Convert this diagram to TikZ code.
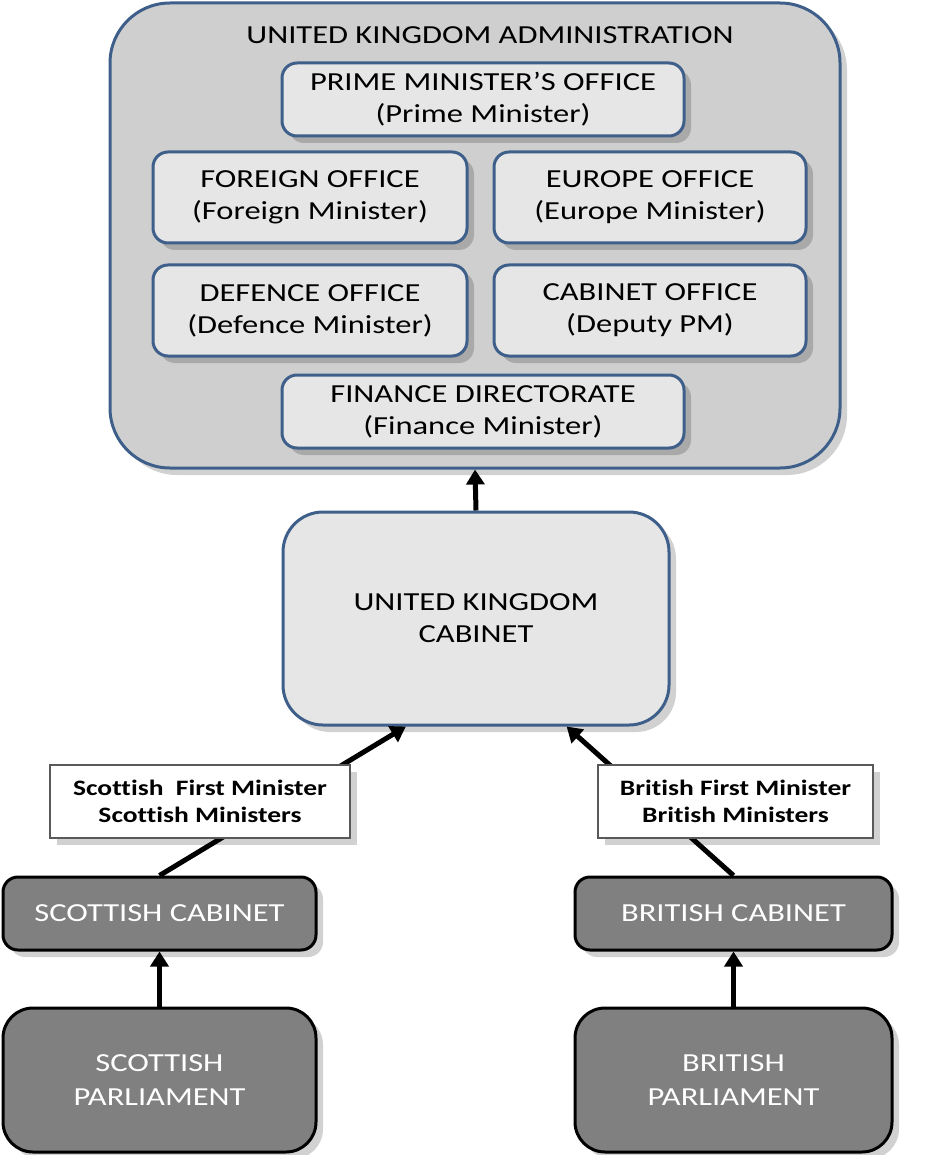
\documentclass[tikz,border=0pt]{standalone}
\usepackage{fontspec}
\setmainfont{Carlito}[FakeStretch=1.25, Ligatures=NoCommon]
\usetikzlibrary{arrows.meta,shadows}

\definecolor{frameblue}{HTML}{3E5F8A}
\definecolor{outergray}{HTML}{CFCFCF}
\definecolor{innergray}{HTML}{E6E6E6}
\definecolor{darkbox}{HTML}{808080}

\tikzset{
  softshadow/.style={drop shadow={shadow xshift=7pt, shadow yshift=-7pt, fill=black, opacity=0.18}},
  adminbox/.style={draw=frameblue, line width=3pt, fill=outergray, rounded corners=60pt,
    minimum width=730pt, minimum height=465pt, inner sep=0pt, softshadow},
  officebox/.style={draw=frameblue, line width=3pt, fill=innergray, rounded corners=15pt,
    inner sep=0pt, align=center, font=\fontsize{26}{32}\selectfont, softshadow},
  cabbox/.style={draw=frameblue, line width=3pt, fill=innergray, rounded corners=40pt,
    inner sep=0pt, align=center, font=\fontsize{26}{32}\selectfont, softshadow},
  regionbox/.style={draw=black, line width=3pt, fill=darkbox, text=white, rounded corners=15pt,
    inner sep=0pt, align=center, font=\fontsize{26}{34}\selectfont, softshadow},
  ministerbox/.style={draw=black!65, line width=2pt, fill=white, inner sep=0pt, align=center,
    font=\bfseries\fontsize{22}{27}\selectfont, softshadow},
  linkarrow/.style={line width=5pt, -{Triangle[length=15pt,width=18pt]}}
}

\begin{document}
\begin{tikzpicture}[x=1pt, y=-1pt]
    \useasboundingbox (0, 0) rectangle (948, 1155);
    % administration and its offices
    \node [adminbox] (admin) at (475, 235.5) {};
    \node [font=\fontsize{26}{32}\selectfont] (admintitle) at (490, 35) {UNITED KINGDOM ADMINISTRATION};
    \node [officebox, minimum width=402pt, minimum height=73pt] (pmoffice) at (483, 99.5) {PRIME MINISTER'S OFFICE\\(Prime Minister)};
    \node [officebox, minimum width=314pt, minimum height=91pt] (foreign) at (310, 197.5) {FOREIGN OFFICE\\(Foreign Minister)};
    \node [officebox, minimum width=312pt, minimum height=91pt] (europe) at (650, 197.5) {EUROPE OFFICE\\(Europe Minister)};
    \node [officebox, minimum width=314pt, minimum height=91pt] (defence) at (310, 310.5) {DEFENCE OFFICE\\(Defence Minister)};
    \node [officebox, minimum width=312pt, minimum height=91pt] (cabinetoffice) at (650, 310.5) {CABINET OFFICE\\(Deputy PM)};
    \node [officebox, minimum width=402pt, minimum height=73pt] (finance) at (483, 411.5) {FINANCE DIRECTORATE\\(Finance Minister)};

    % cabinets and parliaments
    \node [cabbox, minimum width=386pt, minimum height=213pt] (ukcabinet) at (476, 618.5) {UNITED KINGDOM\\CABINET};
    \node [regionbox, minimum width=313pt, minimum height=73pt] (scotcabinet) at (159.5, 913.5) {SCOTTISH CABINET};
    \node [regionbox, minimum width=313pt, minimum height=144pt, rounded corners=30pt] (scotparliament) at (159.5, 1080) {SCOTTISH\\PARLIAMENT};
    \node [regionbox, minimum width=317pt, minimum height=73pt] (britcabinet) at (733.5, 913.5) {BRITISH CABINET};
    \node [regionbox, minimum width=317pt, minimum height=144pt, rounded corners=30pt] (britparliament) at (733.5, 1080) {BRITISH\\PARLIAMENT};

    % connectors
    \draw [linkarrow] (ukcabinet.north) -- (admin.south);
    \draw [linkarrow] (scotparliament.north) -- (scotcabinet.south);
    \draw [linkarrow] (britparliament.north) -- (britcabinet.south);
    \draw [linkarrow] (scotcabinet.north) -- (ukcabinet.237);
    \draw [linkarrow] (britcabinet.north) -- (ukcabinet.310);

    % minister labels on the links
    \node [ministerbox, minimum width=300pt, minimum height=73pt] (scotministers) at (200, 801.5) {Scottish\ \ First Minister\\Scottish Ministers};
    \node [ministerbox, minimum width=275pt, minimum height=73pt] (britministers) at (735.5, 801.5) {British First Minister\\British Ministers};
\end{tikzpicture}
\end{document}
